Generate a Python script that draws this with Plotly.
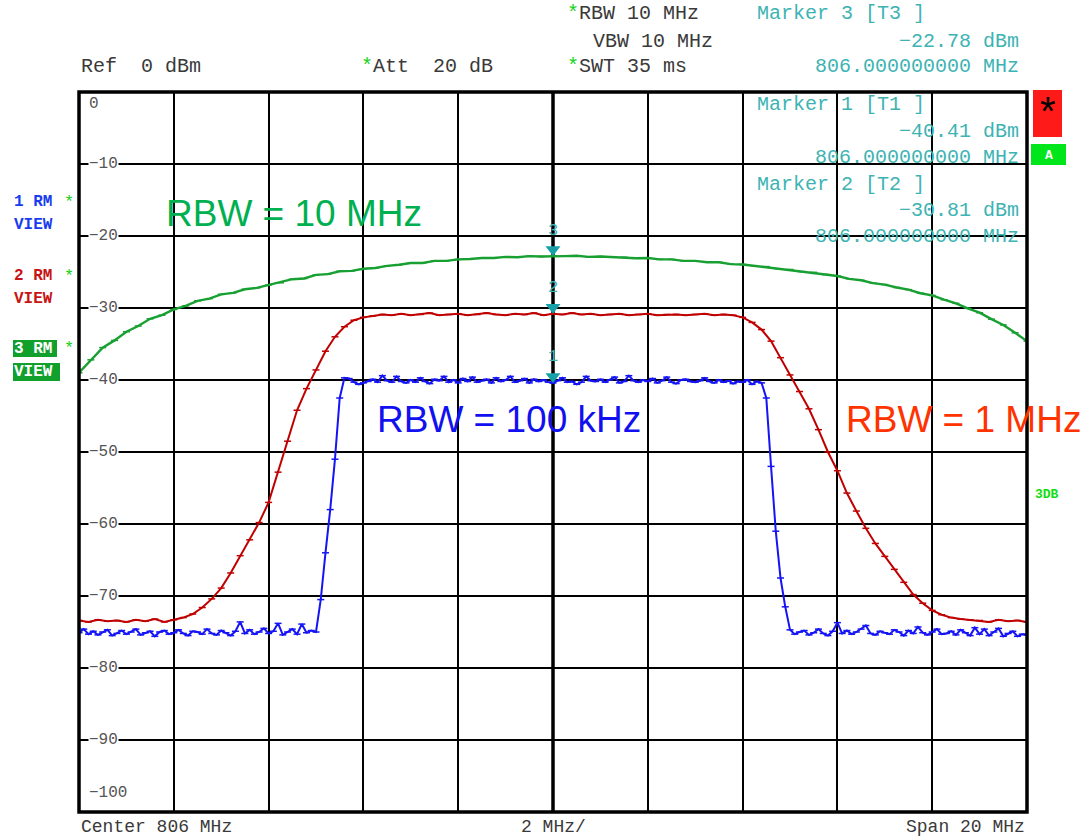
import numpy as np
import plotly.graph_objects as go

# ---------------------------------------------------------------- data
F_START, F_STOP = 796.0, 816.0          # Center 806 MHz, Span 20 MHz
REF_LEVEL, BOTTOM_LEVEL = 0, -100

# Trace 1 : RBW 100 kHz (0.1 MHz per sample)
rbw100k_dbm = [
    -75.1, -74.6, -75.3, -74.9, -75.4, -75.0, -74.7, -75.5, -75.2, -74.8,
    -75.3, -75.0, -74.6, -75.4, -75.1, -74.9, -75.6, -75.0, -74.8, -75.3,
    -75.1, -74.7, -75.2, -75.5, -74.9, -75.0, -75.3, -74.6, -75.2, -75.4,
    -74.8, -75.1, -75.5, -74.9, -73.6, -75.2, -74.7, -75.3, -75.0, -74.5,
    -75.2, -74.9, -73.8, -75.4, -75.0, -74.6, -75.3, -73.9, -75.1, -74.8,
    -75.0, -70.5, -64.0, -58.0, -51.0, -42.5, -39.7, -39.8, -40.3, -40.6,
    -40.4, -40.2, -39.9, -40.3, -39.4, -40.1, -40.3, -39.5, -40.2, -40.4,
    -40.0, -40.3, -39.7, -40.2, -40.5, -39.9, -40.1, -39.5, -40.3, -40.0,
    -40.4, -39.8, -40.2, -39.6, -40.3, -40.1, -39.9, -40.4, -39.7, -40.2,
    -40.0, -39.5, -40.3, -40.1, -39.8, -40.4, -39.9, -40.2, -40.0, -40.3,
    -40.41, -40.1, -39.7, -40.3, -40.2, -40.6, -40.3, -39.5, -40.1, -40.2,
    -39.9, -40.3, -40.0, -39.6, -40.4, -40.2, -39.4, -40.1, -40.3, -40.0,
    -40.2, -39.8, -40.4, -40.1, -39.6, -40.3, -40.5, -40.0, -39.9, -40.2,
    -40.3, -40.1, -39.7, -40.2, -40.4, -40.0, -40.3, -40.1, -40.5, -40.2,
    -40.3, -40.0, -40.6, -40.2, -40.4, -42.5, -52.0, -61.0, -67.5, -71.5,
    -74.7, -75.3, -75.0, -74.8, -75.4, -75.1, -74.6, -75.2, -75.5, -74.9,
    -73.7, -75.2, -74.8, -75.3, -75.0, -74.6, -74.1, -75.2, -75.4, -74.9,
    -75.1, -75.3, -74.7, -75.0, -75.5, -74.8, -75.2, -74.3, -75.1, -75.4,
    -75.0, -74.6, -75.3, -75.2, -74.9, -75.4, -74.7, -75.1, -75.5, -74.4,
    -75.3, -74.6, -75.5, -75.0, -74.5, -75.6, -75.2, -74.9, -75.6, -75.3,
    -75.4,
]

# Trace 2 : RBW 1 MHz (0.2 MHz per sample)
rbw1m_dbm = [
    -73.4, -73.6, -73.3, -73.5, -73.4,
    -73.6, -73.3, -73.5, -73.2, -73.6,
    -73.3, -73.0, -72.5, -71.6, -70.4,
    -68.9, -66.8, -64.4, -62.2, -59.8,
    -57.0, -52.8, -48.5, -44.2, -41.2,
    -38.6, -36.0, -34.0, -32.6, -31.7,
    -31.3, -31.1, -30.9, -31.0, -30.8,
    -31.0, -30.9, -30.7, -31.0, -30.9,
    -30.8, -31.0, -30.9, -30.7, -30.9,
    -31.0, -30.8, -30.9, -30.7, -31.0,
    -30.81, -30.9, -30.7, -30.9, -30.8,
    -31.0, -30.9, -30.8, -31.0, -30.9,
    -30.8, -31.0, -30.9, -30.9, -31.0,
    -30.9, -30.8, -31.0, -30.9, -31.0,
    -31.3, -32.0, -33.0, -34.6, -36.9,
    -39.3, -41.6, -44.0, -46.9, -50.0,
    -52.6, -55.7, -58.2, -60.6, -62.7,
    -64.5, -66.3, -68.1, -69.8, -71.0,
    -72.0, -72.6, -73.0, -73.2, -73.3,
    -73.4, -73.6, -73.3, -73.5, -73.4,
    -73.6,
]

# Trace 3 : RBW 10 MHz (0.25 MHz per sample)
rbw10m_dbm = [
    -39.0, -37.2, -35.5, -34.5,
    -33.3, -32.5, -31.5, -31.0,
    -30.2, -29.7, -29.0, -28.7,
    -28.1, -27.9, -27.4, -27.2,
    -26.8, -26.5, -26.0, -25.9,
    -25.4, -25.3, -24.9, -24.85,
    -24.55, -24.45, -24.15, -24.0,
    -23.75, -23.75, -23.45, -23.45,
    -23.25, -23.2, -23.05, -23.05,
    -22.9, -22.95, -22.8, -22.85,
    -22.78, -22.8, -22.75, -22.9,
    -22.85, -22.95, -22.95, -23.1,
    -23.05, -23.25, -23.25, -23.45,
    -23.45, -23.65, -23.65, -23.9,
    -23.95, -24.15, -24.25, -24.55,
    -24.65, -24.95, -25.05, -25.35,
    -25.55, -25.95, -26.15, -26.55,
    -26.75, -27.15, -27.45, -27.95,
    -28.25, -28.85, -29.35, -30.05,
    -30.65, -31.55, -32.35, -33.45,
    -34.6,
]

marker_ids = ["1", "2", "3"]
marker_freq_mhz = [806.0, 806.0, 806.0]
marker_level_dbm = [-40.41, -30.81, -22.78]

y_tick_values = [0, -10, -20, -30, -40, -50, -60, -70, -80, -90, -100]
y_tick_labels = ["0", "\u221210", "\u221220", "\u221230", "\u221240", "\u221250",
                 "\u221260", "\u221270", "\u221280", "\u221290", "\u2212100"]

# ---------------------------------------------------------------- layout
W, H = 1086, 836
L, R, T, B = 79, 59, 92, 24
PLOT_W, PLOT_H = W - L - R, H - T - B
PX_PER_DB = PLOT_H / (REF_LEVEL - BOTTOM_LEVEL)

MONO = "Liberation Mono, Courier New, monospace"
SANS = "Liberation Sans, Arial, sans-serif"
TEAL = "#3db3b3"
GREY = "#3a3a3a"
STAR = "#14d214"

BLUE = "#1414f5"
RED = "#c00000"
GREEN = "#18a032"


def pxx(x):
    return (x - L) / PLOT_W


def pxy(y):
    return (H - B - y) / PLOT_H


def sweep(values):
    return np.linspace(F_START, F_STOP, len(values))


fig = go.Figure()

traces = [(rbw10m_dbm, GREEN, 2.4), (rbw1m_dbm, RED, 2.0), (rbw100k_dbm, BLUE, 2.0)]
for vals, col, lw in traces:
    fig.add_trace(go.Scatter(
        x=sweep(vals), y=vals, mode="lines+markers",
        line=dict(color=col, width=lw),
        marker=dict(symbol="line-ew", size=5, line=dict(color=col, width=1.5)),
        hoverinfo="skip", showlegend=False,
    ))

# marker triangles (tip resting on the trace)
TRI_SIZE = 13
tri_off = (TRI_SIZE / 2) / PX_PER_DB
fig.add_trace(go.Scatter(
    x=marker_freq_mhz, y=[v + tri_off for v in marker_level_dbm], mode="markers",
    marker=dict(symbol="triangle-down", size=TRI_SIZE, color="#17a0a8"),
    hoverinfo="skip", showlegend=False,
))

ann = []
for mid, f, v in zip(marker_ids, marker_freq_mhz, marker_level_dbm):
    ann.append(dict(x=f, y=v, xref="x", yref="y", text=mid, showarrow=False,
                    yshift=26, font=dict(family=MONO, size=17, color=TEAL)))

# level labels inside the grid
for val, lab in zip(y_tick_values, y_tick_labels):
    shift = 0
    if val == REF_LEVEL:
        shift = -12
    elif val == BOTTOM_LEVEL:
        shift = 19
    ann.append(dict(x=pxx(88), y=val, xref="paper", yref="y", text=lab,
                    showarrow=False, xanchor="left", yanchor="middle", yshift=shift,
                    bgcolor="white" if shift == 0 else None, borderpad=0,
                    font=dict(family=MONO, size=16, color="#555555")))


def txt(x, y, s, color=GREY, size=20, anchor="left", family=MONO, yanchor="middle", **kw):
    ann.append(dict(x=pxx(x), y=pxy(y), xref="paper", yref="paper", text=s,
                    showarrow=False, xanchor=anchor, yanchor=yanchor,
                    font=dict(family=family, size=size, color=color), **kw))


star = "<span style='color:%s'>*</span>" % STAR

# header block
txt(565, 14, star + "RBW 10 MHz")
txt(755, 14, "Marker 3 [T3 ]", TEAL)
txt(579, 41, " VBW 10 MHz")
txt(1021, 41, "\u221222.78 dBm", TEAL, anchor="right")
txt(79, 67, "Ref  0 dBm")
txt(359, 67, star + "Att  20 dB")
txt(565, 67, star + "SWT 35 ms")
txt(1021, 67, "806.000000000 MHz", TEAL, anchor="right")

# marker readouts inside the diagram
txt(755, 104, "Marker 1 [T1 ]", TEAL)
txt(1021, 131, "\u221240.41 dBm", TEAL, anchor="right")
txt(1021, 157, "806.000000000 MHz", TEAL, anchor="right")
txt(755, 184, "Marker 2 [T2 ]", TEAL)
txt(1021, 211, "\u221230.81 dBm", TEAL, anchor="right")
txt(1021, 237, "806.000000000 MHz", TEAL, anchor="right")

# footer
txt(80, 838, "Center 806 MHz", size=18, yanchor="bottom", borderpad=0)
txt(553, 838, "2 MHz/", size=18, anchor="center", yanchor="bottom", borderpad=0)
txt(1026, 838, "Span 20 MHz", size=18, anchor="right", yanchor="bottom", borderpad=0)

# curve captions
txt(164, 214, "RBW = 10 MHz", "#00b050", 37, family=SANS)
txt(375, 419, "RBW = 100 kHz", "#1010f0", 37, family=SANS)
txt(844, 419, "RBW = 1 MHz", "#ff3300", 37, family=SANS)

# trace status labels on the left
for y, s, c in [(202, "1 RM", "#1a3cf0"), (225, "VIEW", "#1a3cf0"),
                (276, "2 RM", "#c81414"), (299, "VIEW", "#c81414"),
                (349, "3 RM", "white"), (372, "VIEW", "white")]:
    ann.append(dict(x=pxx(12), y=pxy(y), xref="paper", yref="paper",
                    text="<b>%s</b>" % s, showarrow=False, xanchor="left",
                    yanchor="middle", font=dict(family=MONO, size=16, color=c)))
for y in (202, 276, 349):
    txt(62, y, "*", STAR, 17, family=MONO)

# right-hand indicators
txt(1048, 111, "*", "black", 40, anchor="center", family=SANS)
ann.append(dict(x=pxx(1048.5), y=pxy(155), xref="paper", yref="paper",
                text="<b>A</b>", showarrow=False, xanchor="center", yanchor="middle",
                font=dict(family=MONO, size=13, color="white")))
ann.append(dict(x=pxx(1033), y=pxy(494), xref="paper", yref="paper",
                text="<b>3DB</b>", showarrow=False, xanchor="left", yanchor="middle",
                font=dict(family=MONO, size=13, color="#10dd10")))

shapes = [
    # green backgrounds of trace 3 status
    dict(type="rect", xref="paper", yref="paper", x0=pxx(13), x1=pxx(57),
         y0=pxy(357), y1=pxy(340), fillcolor="#12a02c", line=dict(width=0), layer="below"),
    dict(type="rect", xref="paper", yref="paper", x0=pxx(13), x1=pxx(60),
         y0=pxy(381), y1=pxy(363), fillcolor="#12a02c", line=dict(width=0), layer="below"),
    # red and green indicator boxes
    dict(type="rect", xref="paper", yref="paper", x0=pxx(1033), x1=pxx(1062),
         y0=pxy(137), y1=pxy(90), fillcolor="#ff1a1a", line=dict(width=0), layer="below"),
    dict(type="rect", xref="paper", yref="paper", x0=pxx(1031), x1=pxx(1066),
         y0=pxy(165), y1=pxy(144), fillcolor="#00e61a", line=dict(width=0), layer="below"),
    # centre line
    dict(type="line", xref="x", yref="paper", x0=806, x1=806, y0=0, y1=1,
         line=dict(color="black", width=3.5), layer="below"),
    # frame
    dict(type="rect", xref="paper", yref="paper", x0=0, x1=1, y0=0, y1=1,
         line=dict(color="black", width=3.5)),
]

fig.update_layout(
    width=W, height=H,
    margin=dict(l=L, r=R, t=T, b=B, pad=0),
    paper_bgcolor="white", plot_bgcolor="white",
    annotations=ann, shapes=shapes,
    xaxis=dict(range=[F_START, F_STOP], dtick=2, tick0=F_START, showgrid=True,
               gridcolor="black", gridwidth=1.8, zeroline=False, showticklabels=False,
               ticks="", showline=False, fixedrange=True),
    yaxis=dict(range=[BOTTOM_LEVEL, REF_LEVEL], dtick=10, tick0=0, showgrid=True,
               gridcolor="black", gridwidth=2, zeroline=False, showticklabels=False,
               ticks="", showline=False, fixedrange=True),
)

fig.write_html("out.html", config={"displayModeBar": False})
